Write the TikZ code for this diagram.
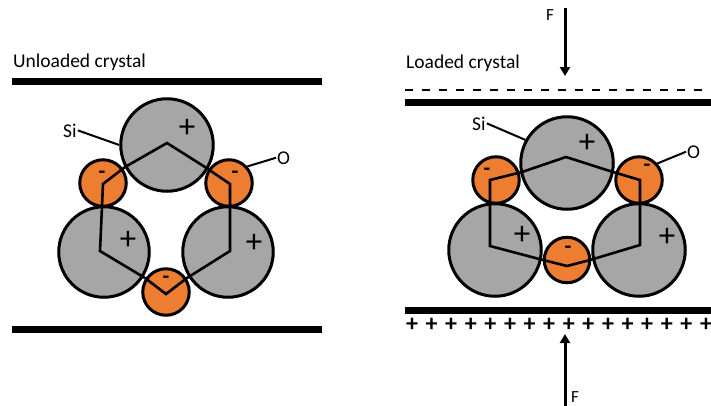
\documentclass[tikz,border=0pt]{standalone}
\usepackage{fontspec}
\setmainfont{Carlito}
\usetikzlibrary{arrows.meta}
\definecolor{siGray}{HTML}{A6A6A6}
\definecolor{oOrange}{HTML}{ED7D31}
\tikzset{
  si/.style={circle, draw, fill=siGray, line width=3pt, inner sep=0pt, minimum size={2*#1pt-1.5pt}},
  ox/.style={circle, draw, fill=oOrange, line width=3pt, inner sep=0pt, minimum size={2*#1pt-1.5pt}},
  bond/.style={line width=2.6pt, line join=miter},
  plate/.style={line width=7pt},
  lab/.style={font=\fontsize{19.5}{22}\selectfont, inner sep=1pt, anchor=base west},
  chg/.style={font=\fontsize{33}{34}\selectfont, inner sep=0pt},
  neg/.style={font=\bfseries\fontsize{22}{24}\selectfont, inner sep=0pt},
  leader/.style={line width=2pt},
  force/.style={line width=3pt, -{Triangle[length=9pt,width=10pt]}}
}
\begin{document}
\begin{tikzpicture}[x=1pt, y=-1pt]
\useasboundingbox (0,0) rectangle (711,405);
% unloaded crystal
\node[lab] (ltitle) at (12,67) {Unloaded crystal};
\draw[plate] (12,81) -- (322,81);
\draw[plate] (12,329.5) -- (322,329.5);
\node[si=47] (ltop) at (167,145) {};
\node[si=46] (lsl) at (104,252) {};
\node[si=46] (lsr) at (228,252) {};
\node[ox=24] (lol) at (103,183) {};
\node[ox=24] (lor) at (229,183) {};
\node[ox=24] (lob) at (166,292) {};
\draw[bond] (167,143) -- (125,167) -- (103,184) -- (100,251) -- (145,278) -- (166,294)
  -- (187,278) -- (230,251) -- (230,184) -- (205,167) -- cycle;
\node[chg] (lptop) at (187,128) {+};
\node[chg] (lpsl) at (128,240) {+};
\node[chg] (lpsr) at (254,243) {+};
\node[neg] (lmol) at (102,175) {-};
\node[neg] (lmor) at (235,175) {-};
\node[neg] (lmob) at (166,280) {-};
\node[lab] (lsilab) at (62,137) {Si};
\node[lab] (lolab) at (276,164) {O};
\draw[leader] (lsilab.east) -- (ltop.west);
\draw[leader] (lor.42) -- (lolab.west);
% loaded crystal
\node[lab] (rtitle) at (405,68) {Loaded crystal};
\coordinate (ftop) at (565,8);
\coordinate (ftoptip) at (565,76);
\draw[force] (ftop) -- (ftoptip);
\node[lab, font=\fontsize{17}{20}\selectfont] (flabtop) at (545,20) {F};
\draw[line width=2.5pt, dash pattern=on 8pt off 9pt] (405,90) -- (711,90);
\draw[plate] (405,102) -- (711,102);
\draw[plate] (405,310) -- (711,310);
\foreach \i in {0,...,15}
  \node[font=\bfseries\fontsize{24}{26}\selectfont, inner sep=0pt] (plus\i) at ({412+19.6*\i},325) {+};
\coordinate (fbot) at (565,406);
\coordinate (fbottip) at (565,334);
\draw[force] (fbot) -- (fbottip);
\node[lab, font=\fontsize{17}{20}\selectfont] (flabbot) at (570,402) {F};
\node[si=47] (rtop) at (567,163) {};
\node[si=47] (rsl) at (495,250) {};
\node[si=47] (rsr) at (639,250) {};
\node[ox=24] (rol) at (496,180) {};
\node[ox=24] (ror) at (639,180) {};
\node[ox=23.5] (rob) at (567,260) {};
\draw[bond] (566,157) -- (522,172) -- (490,180) -- (490,246) -- (543,260) -- (567,266)
  -- (590,260) -- (640,245) -- (640,180) -- (613,172) -- cycle;
\node[chg] (rptop) at (587,143) {+};
\node[chg] (rpsl) at (522,235) {+};
\node[chg] (rpsr) at (667,237) {+};
\node[neg] (rmol) at (487,172) {-};
\node[neg] (rmor) at (647,168) {-};
\node[neg] (rmob) at (568,250) {-};
\node[lab] (rsilab) at (471,130) {Si};
\node[lab] (rolab) at (686,158) {O};
\draw[leader] (rsilab.east) -- (rtop.151);
\draw[leader] (ror.42) -- (rolab.west);
\end{tikzpicture}
\end{document}
